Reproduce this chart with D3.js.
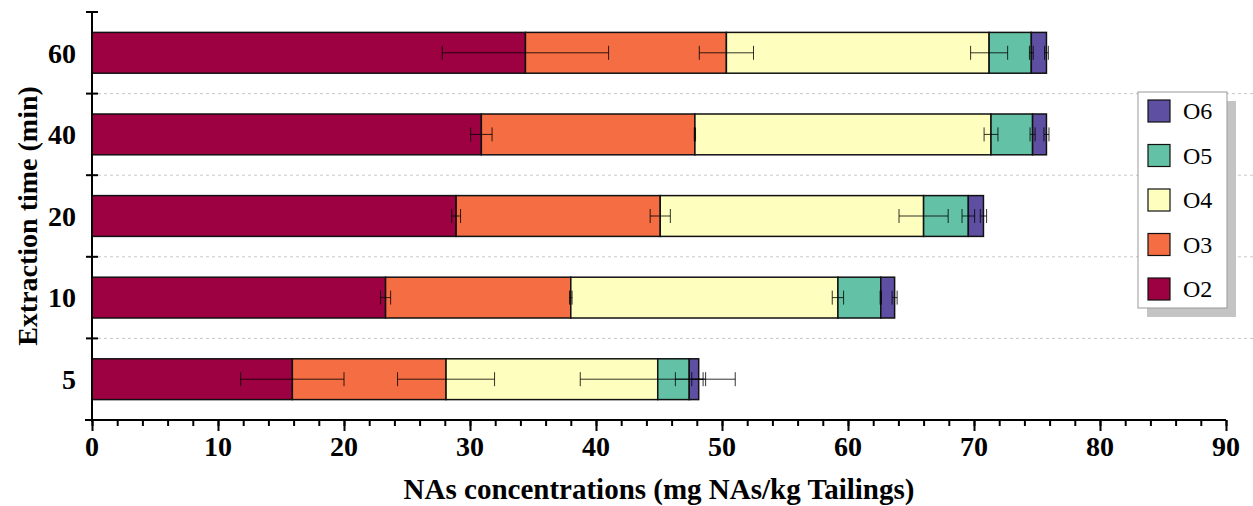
<!DOCTYPE html>
<html>
<head>
<meta charset="utf-8">
<script src="https://cdn.jsdelivr.net/npm/d3@7"></script>
<style>
  body { margin: 0; background: #fff; }
  text { font-family: "Liberation Serif", "Times New Roman", serif; }
</style>
</head>
<body>
<div id="chart"></div>
<script>
const times = ["60", "40", "20", "10", "5"];
const series = ["O2", "O3", "O4", "O5", "O6"];
const colors = ["#9e0142", "#f46d43", "#fefebf", "#63c1a5", "#5e4fa2"];

// values per extraction time (same order as times)
const o2 = [34.4, 30.9, 28.9, 23.3, 15.9];
const o3 = [15.95, 16.95, 16.2, 14.7, 12.2];
const o4 = [20.85, 23.5, 20.9, 21.2, 16.8];
const o5 = [3.35, 3.3, 3.55, 3.4, 2.5];
const o6 = [1.2, 1.1, 1.2, 1.1, 0.75];

// standard deviations
const o2Err = [6.6, 0.85, 0.35, 0.4, 4.1];
const o3Err = [2.15, 0.05, 0.8, 0.1, 3.85];
const o4Err = [1.47, 0.55, 1.95, 0.45, 6.15];
const o5Err = [0.15, 0.2, 0.5, 0.05, 1.1];
const o6Err = [0.15, 0.2, 0.25, 0.2, 0.55];

const xTicks = [0, 10, 20, 30, 40, 50, 60, 70, 80, 90];

const values = [o2, o3, o4, o5, o6];
const errors = [o2Err, o3Err, o4Err, o5Err, o6Err];

const table = times.map((t, i) => {
  const row = { time: t };
  series.forEach((s, k) => { row[s] = values[k][i]; });
  return row;
});

const W = 1253, H = 506;
const margin = { top: 12, right: 27, bottom: 86, left: 92 };

const svg = d3.select("#chart").append("svg")
  .attr("width", W).attr("height", H);

const x = d3.scaleLinear().domain([0, 90]).range([margin.left, W - margin.right]);
const y = d3.scaleBand().domain(times)
  .range([margin.top, H - margin.bottom])
  .paddingInner(0.5).paddingOuter(0.25);

const color = d3.scaleOrdinal().domain(series).range(colors);

// dashed separators between groups
const step = y.step();
const bounds = times.slice(1).map((t) => y(t) - step * 0.25);
svg.append("g").selectAll("line").data(bounds).join("line")
  .attr("x1", margin.left).attr("x2", W)
  .attr("y1", (d) => d).attr("y2", (d) => d)
  .attr("stroke", "#c8c8c8").attr("stroke-dasharray", "3,3");

const stacked = d3.stack().keys(series)(table);

svg.append("g").selectAll("g").data(stacked).join("g")
  .attr("fill", (d) => color(d.key))
  .selectAll("rect").data((d) => d).join("rect")
  .attr("x", (d) => x(d[0]))
  .attr("y", (d) => y(d.data.time))
  .attr("width", (d) => x(d[1]) - x(d[0]))
  .attr("height", y.bandwidth())
  .attr("stroke", "#111").attr("stroke-width", 1.5);

// error bars at the end of each stacked segment
const errData = [];
stacked.forEach((layer, k) => {
  layer.forEach((d, i) => {
    errData.push({ time: d.data.time, end: d[1], err: errors[k][i] });
  });
});
const eb = svg.append("g").attr("stroke", "#000").attr("stroke-opacity", 0.8).attr("stroke-width", 1);
const cy = (d) => y(d.time) + y.bandwidth() / 2;
eb.selectAll("line.h").data(errData).join("line").attr("class", "h")
  .attr("x1", (d) => x(d.end - d.err)).attr("x2", (d) => x(d.end + d.err))
  .attr("y1", cy).attr("y2", cy);
eb.selectAll("line.l").data(errData).join("line").attr("class", "l")
  .attr("x1", (d) => x(d.end - d.err)).attr("x2", (d) => x(d.end - d.err))
  .attr("y1", (d) => cy(d) - 7).attr("y2", (d) => cy(d) + 7);
eb.selectAll("line.r").data(errData).join("line").attr("class", "r")
  .attr("x1", (d) => x(d.end + d.err)).attr("x2", (d) => x(d.end + d.err))
  .attr("y1", (d) => cy(d) - 7).attr("y2", (d) => cy(d) + 7);

// x axis
const x0 = H - margin.bottom;
const xAxis = svg.append("g").attr("transform", `translate(0,${x0})`);
xAxis.append("g")
  .call(d3.axisBottom(x).tickValues(d3.range(0, 91, 2)).tickSize(6).tickFormat(""))
  .call((g) => g.select(".domain").remove());
xAxis.append("g").call(d3.axisBottom(x).tickValues(xTicks).tickSize(11).tickFormat(""))
  .call((g) => g.select(".domain").remove());
xAxis.selectAll("line").attr("stroke", "#000").attr("stroke-width", 2);
xAxis.append("line").attr("x1", margin.left - 7).attr("x2", x(90))
  .attr("stroke", "#000").attr("stroke-width", 2);
xAxis.selectAll("text.lbl").data(xTicks).join("text").attr("class", "lbl")
  .attr("x", (d) => x(d)).attr("y", 36).attr("fill", "#000")
  .attr("text-anchor", "middle").attr("font-size", 28).attr("font-weight", "bold")
  .text((d) => d);

// y axis
const yAxis = svg.append("g");
yAxis.append("line").attr("x1", margin.left).attr("x2", margin.left)
  .attr("y1", margin.top).attr("y2", x0 + 2)
  .attr("stroke", "#000").attr("stroke-width", 2);
const yTickPos = [margin.top].concat(bounds);
yAxis.selectAll("line.t").data(yTickPos).join("line").attr("class", "t")
  .attr("x1", margin.left - 6).attr("x2", margin.left + 6)
  .attr("y1", (d) => d).attr("y2", (d) => d)
  .attr("stroke", "#000").attr("stroke-width", 2);
yAxis.selectAll("text").data(times).join("text")
  .attr("x", 76).attr("y", (d) => y(d) + y.bandwidth() / 2)
  .attr("dy", "0.35em").attr("text-anchor", "end")
  .attr("font-size", 28).attr("font-weight", "bold")
  .text((d) => d);

// axis titles
svg.append("text")
  .attr("x", (x(0) + x(90)) / 2).attr("y", 499)
  .attr("text-anchor", "middle").attr("font-size", 29).attr("font-weight", "bold")
  .text("NAs concentrations (mg NAs/kg Tailings)");
svg.append("text")
  .attr("transform", `translate(37,${(margin.top + x0) / 2}) rotate(-90)`)
  .attr("text-anchor", "middle").attr("font-size", 28).attr("font-weight", "bold")
  .text("Extraction time (min)");

// legend
const legend = svg.append("g").attr("transform", "translate(1138,92)");
legend.append("rect").attr("x", 9).attr("y", 9).attr("width", 89).attr("height", 216)
  .attr("fill", "#c4c4c4");
legend.append("rect").attr("width", 89).attr("height", 216)
  .attr("fill", "#fff").attr("stroke", "#999").attr("stroke-width", 1);
const legendKeys = series.slice().reverse();
const item = legend.selectAll("g.item").data(legendKeys).join("g").attr("class", "item")
  .attr("transform", (d, i) => `translate(10,${8 + i * 44.5})`);
item.append("rect").attr("width", 22).attr("height", 22)
  .attr("fill", (d) => color(d)).attr("stroke", "#111").attr("stroke-width", 1.2);
item.append("text").attr("x", 35).attr("y", 11).attr("dy", "0.35em")
  .attr("font-size", 24).text((d) => d);
</script>
</body>
</html>
